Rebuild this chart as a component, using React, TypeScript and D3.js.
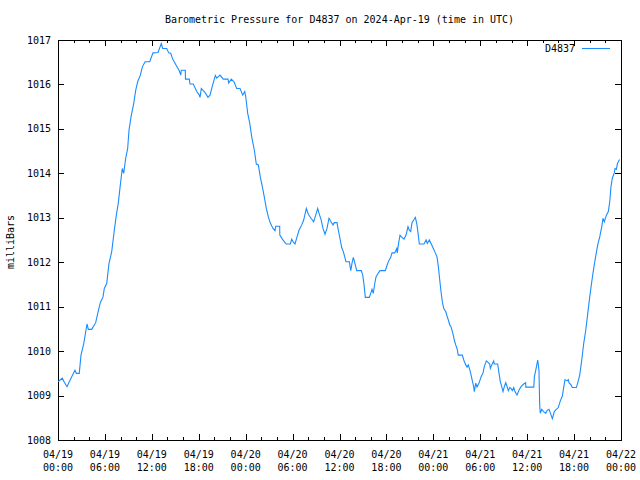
import React from "react";
import * as d3 from "d3";

const hours: number[] = [
  0.0, 0.55, 0.81, 1.15, 1.66, 2.17, 2.34, 2.72, 2.94, 3.29, 3.71, 3.88, 4.31, 4.82, 5.08, 5.41, 5.76, 5.92, 6.23, 6.52,
  6.87, 7.2, 7.46, 7.71, 7.97, 8.22, 8.4, 8.66, 8.91, 9.08, 9.34, 9.68, 9.94, 10.19, 10.53, 10.78, 11.13, 11.73, 12.15,
  12.79, 13.21, 13.39, 13.9, 14.16, 14.41, 14.67, 15.18, 15.51, 15.69, 15.77, 16.28, 16.3, 16.79, 16.88, 17.3, 17.74,
  18.07, 18.16, 18.33, 18.84, 19.18, 19.44, 19.78, 20.12, 20.3, 20.72, 21.14, 21.74, 21.83, 22.16, 22.51, 22.85, 23.28,
  23.62, 23.88, 23.99, 24.26, 24.52, 24.77, 25.11, 25.36, 25.62, 25.87, 26.13, 26.38, 26.64, 26.9, 27.15, 27.5, 27.75,
  27.84, 28.35, 28.37, 28.69, 29.03, 29.2, 29.71, 29.89, 30.14, 30.31, 30.57, 30.82, 31.17, 31.42, 31.59, 31.76, 32.01,
  32.36, 32.7, 32.87, 33.21, 33.38, 33.63, 33.89, 34.15, 34.4, 34.66, 34.91, 35.17, 35.34, 35.68, 35.85, 36.1, 36.28,
  36.49, 36.67, 36.83, 37.26, 37.44, 37.6, 37.77, 38.02, 38.2, 38.79, 38.97, 39.14, 39.3, 39.81, 39.99, 40.16, 40.32,
  40.5, 40.67, 40.93, 41.18, 41.86, 42.04, 42.29, 42.55, 42.72, 43.06, 43.32, 43.39, 43.57, 43.74, 43.99, 44.25, 44.51,
  44.76, 44.93, 45.11, 45.27, 45.53, 45.7, 45.87, 46.04, 46.21, 46.81, 47.07, 47.23, 47.49, 47.74, 48.0, 48.25, 48.47,
  48.64, 48.82, 48.98, 49.15, 49.33, 49.58, 49.75, 49.92, 50.1, 50.26, 50.52, 50.68, 50.86, 51.03, 51.19, 51.71, 51.89,
  52.14, 52.31, 52.47, 52.73, 52.91, 53.16, 53.24, 53.42, 53.59, 53.84, 54.1, 54.35, 54.52, 54.78, 55.03, 55.21, 55.29,
  55.47, 55.72, 55.8, 56.23, 56.4, 56.57, 56.75, 56.91, 57.08, 57.26, 57.42, 57.59, 57.77, 57.93, 58.1, 58.28, 58.44,
  58.7, 58.95, 59.21, 59.56, 59.81, 59.83, 60.85, 60.92, 61.1, 61.26, 61.35, 61.51, 61.6, 61.68, 61.86, 62.11, 62.37,
  62.54, 62.79, 62.96, 63.22, 63.47, 63.73, 63.98, 64.24, 64.5, 64.67, 64.84, 65.1, 65.26, 65.35, 65.61, 65.78, 66.29,
  66.47, 66.72, 66.98, 67.23, 67.49, 67.75, 68.0, 68.26, 68.51, 68.77, 69.02, 69.28, 69.54, 69.7, 69.87, 70.13, 70.38,
  70.56, 70.72, 70.89, 71.14, 71.23, 71.4, 71.55, 71.81,
];

const pressure: number[] = [
  1009.31, 1009.39, 1009.3, 1009.2, 1009.39, 1009.57, 1009.5, 1009.5, 1009.91, 1010.17, 1010.61, 1010.49, 1010.49,
  1010.64, 1010.85, 1011.09, 1011.22, 1011.41, 1011.52, 1011.97, 1012.24, 1012.72, 1013.06, 1013.33, 1013.74, 1014.11,
  1014.0, 1014.34, 1014.56, 1014.97, 1015.27, 1015.57, 1015.87, 1016.06, 1016.21, 1016.39, 1016.51, 1016.51, 1016.71,
  1016.72, 1016.92, 1016.81, 1016.81, 1016.71, 1016.7, 1016.57, 1016.41, 1016.31, 1016.21, 1016.32, 1016.32, 1016.12,
  1016.12, 1016.01, 1016.01, 1015.84, 1015.76, 1015.71, 1015.91, 1015.81, 1015.71, 1015.76, 1015.99, 1016.2, 1016.14,
  1016.21, 1016.12, 1016.12, 1016.03, 1016.12, 1016.06, 1015.91, 1015.91, 1015.76, 1015.84, 1015.75, 1015.35, 1015.13,
  1014.82, 1014.52, 1014.21, 1014.19, 1013.92, 1013.7, 1013.47, 1013.21, 1013.02, 1012.88, 1012.76, 1012.71, 1012.81,
  1012.81, 1012.61, 1012.52, 1012.44, 1012.41, 1012.41, 1012.52, 1012.44, 1012.41, 1012.57, 1012.72, 1012.84, 1012.95,
  1013.08, 1013.21, 1013.08, 1012.99, 1012.91, 1013.01, 1013.21, 1013.1, 1012.97, 1012.76, 1012.63, 1012.76, 1012.99,
  1012.91, 1012.84, 1012.89, 1012.89, 1012.72, 1012.5, 1012.33, 1012.24, 1012.12, 1012.01, 1012.01, 1011.81, 1011.98,
  1012.11, 1011.94, 1011.81, 1011.81, 1011.71, 1011.49, 1011.21, 1011.21, 1011.3, 1011.39, 1011.3, 1011.51, 1011.67,
  1011.75, 1011.81, 1011.81, 1011.91, 1012.03, 1012.11, 1012.21, 1012.21, 1012.31, 1012.21, 1012.44, 1012.61, 1012.56,
  1012.52, 1012.61, 1012.8, 1012.72, 1012.69, 1012.89, 1012.96, 1013.01, 1012.88, 1012.66, 1012.41, 1012.41, 1012.5,
  1012.42, 1012.5, 1012.41, 1012.31, 1012.21, 1012.12, 1011.9, 1011.6, 1011.34, 1011.11, 1010.96, 1010.89, 1010.79,
  1010.7, 1010.59, 1010.55, 1010.38, 1010.25, 1010.14, 1010.06, 1009.91, 1009.91, 1009.8, 1009.69, 1009.64, 1009.69,
  1009.54, 1009.39, 1009.2, 1009.09, 1009.28, 1009.19, 1009.28, 1009.42, 1009.51, 1009.65, 1009.78, 1009.74, 1009.71,
  1009.61, 1009.69, 1009.78, 1009.71, 1009.71, 1009.5, 1009.31, 1009.2, 1009.09, 1009.2, 1009.29, 1009.21, 1009.11,
  1009.18, 1009.16, 1009.11, 1009.18, 1009.09, 1009.01, 1009.12, 1009.2, 1009.26, 1009.29, 1009.19, 1009.19, 1009.42,
  1009.57, 1009.72, 1009.8, 1009.57, 1008.79, 1008.6, 1008.69, 1008.64, 1008.6, 1008.66, 1008.69, 1008.61, 1008.48,
  1008.64, 1008.69, 1008.73, 1008.88, 1008.99, 1009.18, 1009.36, 1009.33, 1009.36, 1009.29, 1009.24, 1009.18, 1009.18,
  1009.29, 1009.46, 1009.8, 1010.17, 1010.47, 1010.85, 1011.22, 1011.56, 1011.86, 1012.14, 1012.39, 1012.57, 1012.8,
  1012.99, 1012.91, 1013.06, 1013.14, 1013.36, 1013.7, 1013.89, 1014.01, 1014.11, 1014.09, 1014.22, 1014.31,
];

const xTickDates: string[] = ["04/19", "04/19", "04/19", "04/19", "04/20", "04/20", "04/20", "04/20", "04/21", "04/21", "04/21", "04/21", "04/22"];
const xTickTimes: string[] = ["00:00", "06:00", "12:00", "18:00", "00:00", "06:00", "12:00", "18:00", "00:00", "06:00", "12:00", "18:00", "00:00"];
const yTicks: number[] = [1008, 1009, 1010, 1011, 1012, 1013, 1014, 1015, 1016, 1017];

const title = "Barometric Pressure for D4837 on 2024-Apr-19 (time in UTC)";
const seriesName = "D4837";
const yLabel = "milliBars";

const W = 640;
const H = 480;
const M = { left: 58, right: 621, top: 40, bottom: 440 };
const FONT = "'DejaVu Sans Mono', monospace";
const LINE = "#1a8cff";

const start = new Date(Date.UTC(2024, 3, 19, 0, 0, 0));
const end = new Date(Date.UTC(2024, 3, 22, 0, 0, 0));

export default function App() {
  const x = d3.scaleUtc().domain([start, end]).range([M.left, M.right]);
  const y = d3.scaleLinear().domain([1008, 1017]).range([M.bottom, M.top]);

  const pts = hours.map((h, i) => ({ t: new Date(start.getTime() + h * 3600000), v: pressure[i] }));
  const line = d3
    .line<{ t: Date; v: number }>()
    .x((d) => x(d.t))
    .y((d) => y(d.v));

  const majorX = d3.utcHour.every(6)!.range(start, new Date(end.getTime() + 1));
  const minorX = d3.utcHour.every(2)!.range(start, new Date(end.getTime() + 1)).filter((d) => d.getUTCHours() % 6 !== 0);

  return (
    <svg width={W} height={H} style={{ position: "absolute", left: 0, top: 0, background: "#fff" }} fontFamily={FONT}>
      <rect x={0} y={0} width={W} height={H} fill="#fff" />
      <text x={(M.left + M.right) / 2} y={23} fontSize={10} textAnchor="middle" fill="#000">
        {title}
      </text>
      <g shapeRendering="crispEdges" stroke="#000" strokeWidth={1}>
        {yTicks.map((v) => (
          <g key={"y" + v}>
            <line x1={M.left} x2={M.left + 6} y1={Math.round(y(v)) + 0.5} y2={Math.round(y(v)) + 0.5} />
            <line x1={M.right - 6} x2={M.right} y1={Math.round(y(v)) + 0.5} y2={Math.round(y(v)) + 0.5} />
          </g>
        ))}
        {majorX.map((d, i) => (
          <g key={"mx" + i}>
            <line x1={Math.round(x(d)) + 0.5} x2={Math.round(x(d)) + 0.5} y1={M.bottom} y2={M.bottom - 6} />
            <line x1={Math.round(x(d)) + 0.5} x2={Math.round(x(d)) + 0.5} y1={M.top} y2={M.top + 6} />
          </g>
        ))}
        {minorX.map((d, i) => (
          <g key={"nx" + i}>
            <line x1={Math.round(x(d)) + 0.5} x2={Math.round(x(d)) + 0.5} y1={M.bottom} y2={M.bottom - 3} />
            <line x1={Math.round(x(d)) + 0.5} x2={Math.round(x(d)) + 0.5} y1={M.top} y2={M.top + 3} />
          </g>
        ))}
        <rect x={M.left + 0.5} y={M.top + 0.5} width={M.right - M.left} height={M.bottom - M.top} fill="none" />
      </g>
      {yTicks.map((v) => (
        <text key={"yl" + v} x={51} y={y(v) + 3.5} fontSize={10} textAnchor="end" fill="#000">
          {v}
        </text>
      ))}
      {majorX.map((d, i) => (
        <g key={"xl" + i}>
          <text x={x(d)} y={458} fontSize={10} textAnchor="middle" fill="#000">
            {xTickDates[i]}
          </text>
          <text x={x(d)} y={471} fontSize={10} textAnchor="middle" fill="#000">
            {xTickTimes[i]}
          </text>
        </g>
      ))}
      <text x={0} y={0} fontSize={10} textAnchor="middle" fill="#000" transform={`translate(14,242) rotate(-90)`}>
        {yLabel}
      </text>
      <text x={575} y={51.5} fontSize={10} textAnchor="end" fill="#000">
        {seriesName}
      </text>
      <line x1={582} x2={610} y1={48.5} y2={48.5} stroke={LINE} strokeWidth={1} shapeRendering="crispEdges" />
      <path d={line(pts) ?? ""} fill="none" stroke={LINE} strokeWidth={1.1} />
    </svg>
  );
}
